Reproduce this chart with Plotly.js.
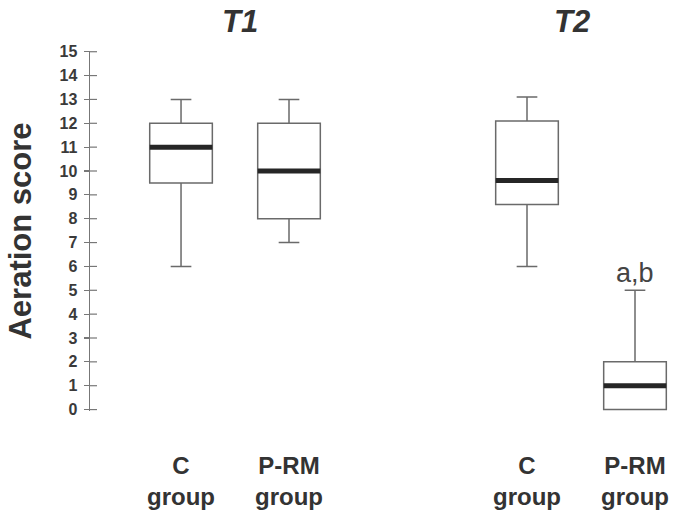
<!DOCTYPE html>
<html>
<head>
<meta charset="utf-8">
<script src="https://cdn.plot.ly/plotly-3.0.1.min.js"></script>
<style>html,body{margin:0;padding:0;background:#fff;}#chart{width:685px;height:514px;}</style>
</head>
<body>
<div id="chart"></div>
<script>
// ---- data ----
const timepoints = ["T1", "T2"];
const groups = ["C group", "P-RM group"];
const groupTickLabels = ["C<br>group", "P-RM<br>group"];

const T1_lower  = [6, 7];
const T1_q1     = [9.5, 8];
const T1_median = [11, 10];
const T1_q3     = [12, 12];
const T1_upper  = [13, 13];

const T2_lower  = [6, 0];
const T2_q1     = [8.6, 0];
const T2_median = [9.6, 1];
const T2_q3     = [12.1, 2];
const T2_upper  = [13.1, 5];

const yTicks = [0,1,2,3,4,5,6,7,8,9,10,11,12,13,14,15];
const sigLabel = "a,b";
const yTitle = "Aeration score";

// ---- styling ----
const FONT = "Liberation Sans, Arial, sans-serif";
const boxW = 0.58;
const sets = [
  {lower:T1_lower,q1:T1_q1,median:T1_median,q3:T1_q3,upper:T1_upper, xa:"x"},
  {lower:T2_lower,q1:T2_q1,median:T2_median,q3:T2_q3,upper:T2_upper, xa:"x2"}
];

const traces = [];
const shapes = [];
sets.forEach(s => {
  traces.push({
    type: "box",
    x: groups,
    q1: s.q1, median: s.median, q3: s.q3,
    lowerfence: s.lower, upperfence: s.upper,
    xaxis: s.xa, yaxis: "y",
    width: boxW,
    whiskerwidth: 0.33,
    fillcolor: "#ffffff",
    line: {color: "#6a6a6a", width: 1.5},
    hoverinfo: "skip",
    showlegend: false
  });
  s.median.forEach((m, i) => {
    shapes.push({
      type: "line", xref: s.xa, yref: "y",
      x0: i - boxW/2, x1: i + boxW/2, y0: m, y1: m,
      line: {color: "#262626", width: 5}, layer: "above"
    });
  });
});
// inner half of the crossing ticks
yTicks.forEach(t => {
  shapes.push({
    type: "line", xref: "paper", yref: "y",
    x0: 0, x1: 7/595, y0: t, y1: t,
    line: {color: "#777777", width: 1.2}, layer: "above"
  });
});

const xcommon = {
  type: "category",
  showline: false, showgrid: false, zeroline: false,
  ticks: "",
  tickvals: groups, ticktext: groupTickLabels,
  tickfont: {family: FONT, size: 24, color: "#333333", weight: "bold"},
  ticklabelstandoff: 38,
  fixedrange: true
};

const layout = {
  width: 685, height: 514,
  margin: {l: 90, r: 0, t: 51, b: 103},
  paper_bgcolor: "#ffffff", plot_bgcolor: "#ffffff",
  showlegend: false,
  xaxis: Object.assign({}, xcommon, {domain: [0, 0.4252], range: [-0.843, 1.5], anchor: "y"}),
  xaxis2: Object.assign({}, xcommon, {domain: [0.6437, 1], range: [-0.5, 1.463], anchor: "y"}),
  yaxis: {
    range: [-0.06, 15.03],
    tickvals: yTicks, ticktext: yTicks.map(String),
    ticks: "outside", ticklen: 5, tickwidth: 1.2, tickcolor: "#777777",
    showline: true, linecolor: "#777777", linewidth: 1.5,
    showgrid: false, zeroline: false,
    tickfont: {family: FONT, size: 16, color: "#3a3a3a", weight: "bold"},
    ticklabelstandoff: 3,
    title: {text: yTitle, font: {family: FONT, size: 31, color: "#333333", weight: "bold"}, standoff: 18},
    anchor: "x"
  },
  shapes: shapes,
  annotations: [
    {text: "<b><i>" + timepoints[0] + "</i></b>", xref: "x", x: 0.5, yref: "paper", y: 1, yanchor: "bottom", yshift: 10, xshift: 5,
     showarrow: false, font: {family: FONT, size: 31, color: "#333333"}},
    {text: "<b><i>" + timepoints[1] + "</i></b>", xref: "x2", x: 0.5, yref: "paper", y: 1, yanchor: "bottom", yshift: 10, xshift: -9,
     showarrow: false, font: {family: FONT, size: 31, color: "#333333"}},
    {text: sigLabel, xref: "x2", x: 1, yref: "y", y: T2_upper[1], yanchor: "bottom", yshift: 0,
     showarrow: false, font: {family: FONT, size: 27, color: "#444444"}}
  ]
};

Plotly.newPlot("chart", traces, layout, {staticPlot: true, displayModeBar: false});
</script>
</body>
</html>
